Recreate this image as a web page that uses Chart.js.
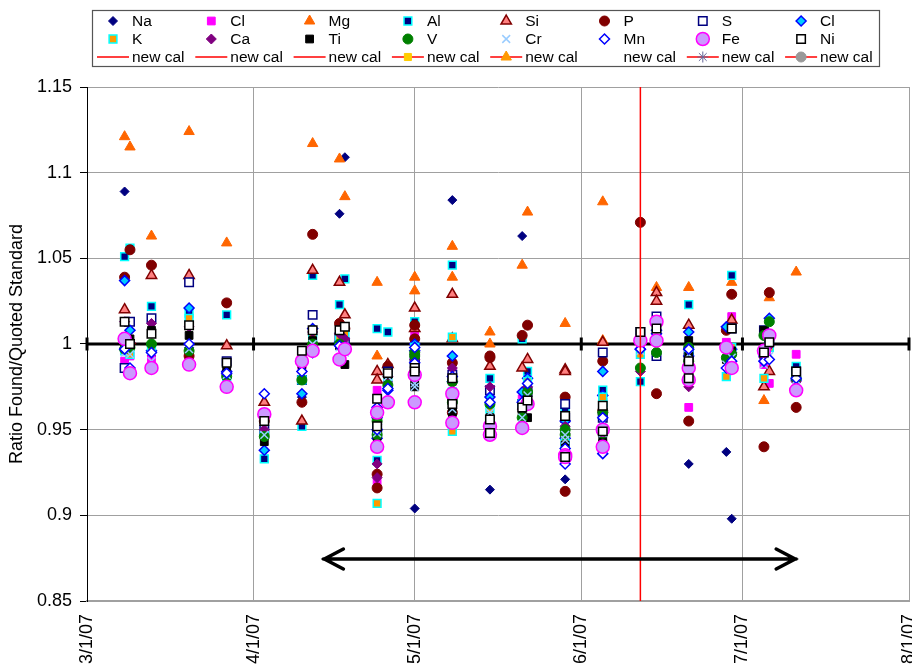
<!DOCTYPE html>
<html>
<head>
<meta charset="utf-8">
<script src="https://cdn.jsdelivr.net/npm/chart.js@4.4.0/dist/chart.umd.min.js"></script>
<style>
  html, body { margin: 0; padding: 0; background: #fff; }
  canvas { display: block; }
</style>
</head>
<body>
<canvas id="calChart" width="912" height="671"></canvas>
<script>
// sample run dates (some days have two runs)
const runDates = ['3/8/07','3/9/07','3/13/07','3/20/07','3/27/07','4/3/07','4/10/07','4/12/07','4/17/07','4/18/07',
  '4/24/07','4/24/07','4/26/07','5/1/07','5/1/07','5/8/07','5/8/07','5/15/07','5/15/07','5/21/07',
  '5/22/07','5/29/07','5/29/07','6/5/07','6/5/07','6/12/07','6/15/07','6/15/07','6/21/07','6/21/07',
  '6/28/07','6/29/07','7/5/07','7/6/07','7/11/07'];

// ratio found / quoted standard, one value per run
const na  = [1.089,0.999,0.993,0.998,0.983,0.950,0.969,null,1.076,1.109,0.953,0.948,0.978,0.997,0.904,1.084,0.965,0.915,null,1.063,null,0.921,null,0.958,null,null,null,null,0.930,null,0.937,0.898,null,null,null];
const cl  = [0.990,0.993,0.991,0.994,0.978,0.955,0.985,1.003,1.007,1.002,0.973,0.919,0.977,1.006,0.999,0.984,0.978,0.955,null,0.968,0.975,0.960,0.944,0.966,0.958,0.998,1.006,null,0.963,0.985,1.001,1.016,0.988,0.977,0.994];
const mg  = [1.121,1.115,1.063,1.124,1.059,0.966,null,1.117,1.108,1.086,1.036,0.993,null,1.039,1.031,1.057,1.039,1.007,1.000,1.046,1.077,1.012,0.984,1.083,1.002,null,1.033,null,1.033,null,null,1.036,0.967,1.027,1.042];
const al  = [1.051,1.056,1.022,1.018,1.017,0.933,0.952,1.040,1.023,1.038,1.009,0.932,1.007,1.013,0.998,1.046,0.972,0.980,null,1.003,0.984,0.962,0.950,0.973,0.966,0.978,1.010,null,1.023,0.996,null,1.040,null,1.000,0.987];
const si  = [1.020,1.002,1.040,1.040,0.999,0.966,0.955,1.043,1.036,1.017,0.984,0.979,0.988,1.021,1.009,1.029,1.003,0.987,null,0.986,0.991,0.985,0.984,1.001,null,1.004,1.030,1.025,1.011,null,null,1.014,0.975,0.984,null];
const p   = [1.039,1.055,1.046,0.993,1.024,0.955,0.966,1.064,1.012,1.009,0.924,0.916,0.987,1.011,1.003,0.989,0.960,0.993,0.992,1.005,1.011,0.969,0.914,0.990,0.961,1.071,0.971,null,0.955,null,1.008,1.029,0.940,1.030,0.963];
const s   = [0.986,1.013,1.015,1.036,0.990,0.950,0.979,1.017,1.004,1.001,0.951,0.948,0.984,0.989,0.992,0.982,0.968,0.973,null,0.965,0.972,0.965,0.957,0.995,0.957,1.007,1.016,0.993,0.995,0.992,null,1.009,1.008,1.003,0.984];
const cl2 = [1.037,1.008,0.996,1.021,0.984,0.938,0.971,1.009,1.001,0.999,0.957,0.945,0.973,1.000,0.996,0.993,0.978,0.969,null,0.972,0.980,0.955,0.945,0.984,0.970,0.997,1.008,null,1.007,0.993,1.010,0.997,0.993,1.015,0.979];
const k   = [0.996,0.994,0.998,1.015,0.981,0.948,0.979,1.004,1.003,1.006,0.952,0.907,0.981,0.998,0.996,1.004,0.949,0.962,null,0.965,0.978,0.942,0.940,0.969,0.964,0.994,1.005,null,0.996,0.988,0.981,0.998,0.980,0.998,0.982];
const ca  = [1.013,1.001,1.012,1.010,0.982,0.950,0.984,1.007,1.006,1.003,0.930,0.922,0.981,0.994,0.991,0.986,0.968,0.975,null,0.962,0.975,0.952,0.948,0.960,0.951,0.984,1.004,null,0.990,0.975,null,0.995,0.992,0.999,0.978];
const ti  = [0.998,1.003,1.008,1.005,0.986,0.943,0.988,1.002,0.999,0.988,0.949,0.946,0.982,0.977,0.975,0.964,0.960,0.957,null,0.958,0.957,0.958,0.941,0.945,0.942,1.004,1.007,null,1.002,0.993,0.991,0.996,1.008,1.002,0.983];
const v   = [0.997,0.998,1.000,0.996,0.981,0.946,0.979,1.000,1.000,0.997,0.955,0.947,0.976,0.995,0.993,0.978,0.966,0.965,null,0.957,0.972,0.947,0.950,0.960,0.948,0.986,0.995,null,0.998,0.990,0.992,0.994,1.005,1.013,0.980];
const cr  = [0.995,0.994,0.990,0.997,0.982,0.947,0.996,1.000,0.998,0.995,0.950,0.948,0.981,0.977,0.975,0.970,0.962,0.960,null,0.957,0.970,0.947,0.944,0.955,0.948,0.996,1.003,null,0.994,0.985,0.988,0.992,0.988,0.993,0.979];
const mn  = [0.997,0.986,0.995,1.000,0.983,0.971,0.984,0.995,0.999,0.998,0.963,0.950,0.974,0.998,0.989,0.981,0.970,0.966,null,0.966,0.977,0.939,0.930,0.957,0.936,0.997,1.006,null,0.997,0.988,0.986,0.990,0.990,0.991,0.980];
const fe  = [1.003,0.983,0.986,0.988,0.975,0.959,0.990,0.996,0.991,0.997,0.960,0.940,0.966,0.982,0.966,0.971,0.954,0.952,0.947,0.951,0.965,0.935,0.934,0.950,0.940,1.002,1.013,1.002,0.986,0.979,0.998,0.986,0.996,1.005,0.973];
const ni  = [1.013,1.000,1.006,1.011,0.989,0.955,0.996,1.008,1.008,1.010,0.968,0.952,0.983,0.986,0.984,0.980,0.965,0.956,0.948,0.963,0.967,0.958,0.934,0.964,0.949,1.007,1.009,null,0.990,0.980,null,1.009,0.995,1.001,0.984];

// axis ticks, calibration change, arrow annotation
const tickDates = ['3/1/07','4/1/07','5/1/07','6/1/07','7/1/07','8/1/07'];
const newCalDate = '6/12/07';
const arrowDates = ['4/14/07','7/11/07'];
const arrowLevel = 0.8745;
const newCalLabels = ['new cal','new cal','new cal','new cal','new cal','new cal','new cal','new cal'];

const FONT = '"Liberation Sans", Arial, sans-serif';

// days since 3/1/07
const dayOf = (str) => {
    const [m, d, y] = str.split('/').map(Number);
    return (Date.UTC(2000 + y, m - 1, d) - Date.UTC(2007, 2, 1)) / 864e5;
};
const axisMin = dayOf(tickDates[0]);
const axisMax = dayOf(tickDates[tickDates.length - 1]);

const seriesDefs = [
    { label: 'Na', values: na,  style: 'rectRot',  r: 4.5, fill: '#000080', stroke: '#000080', bw: 1 },
    { label: 'Cl', values: cl,  style: 'rect',     r: 5.5, fill: '#FF00FF', stroke: '#FF00FF', bw: 1 },
    { label: 'Mg', values: mg,  style: 'triangle', r: 6,   fill: '#FF6600', stroke: '#FF6600', bw: 1 },
    { label: 'Al', values: al,  style: 'rect',     r: 5.5, fill: '#000080', stroke: '#00FFFF', bw: 1.5 },
    { label: 'Si', values: si,  style: 'triangle', r: 6,   fill: '#FF8080', stroke: '#800000', bw: 1.5 },
    { label: 'P',  values: p,   style: 'circle',   r: 5,   fill: '#800000', stroke: '#800000', bw: 1 },
    { label: 'S',  values: s,   style: 'rect',     r: 6,   fill: '#FFFFFF', stroke: '#000080', bw: 1.5 },
    { label: 'Cl', values: cl2, style: 'rectRot',  r: 5,   fill: '#00CCFF', stroke: '#0000FF', bw: 1.5 },
    { label: 'K',  values: k,   style: 'rect',     r: 5.5, fill: '#FF9900', stroke: '#00FFFF', bw: 1.5 },
    { label: 'Ca', values: ca,  style: 'rectRot',  r: 5,   fill: '#800080', stroke: '#800080', bw: 1 },
    { label: 'Ti', values: ti,  style: 'rect',     r: 5.5, fill: '#000000', stroke: '#000000', bw: 1 },
    { label: 'V',  values: v,   style: 'circle',   r: 5,   fill: '#008000', stroke: '#008000', bw: 1 },
    { label: 'Cr', values: cr,  style: 'crossRot', r: 5.5, fill: '#99CCFF', stroke: '#99CCFF', bw: 1.5 },
    { label: 'Mn', values: mn,  style: 'rectRot',  r: 5,   fill: '#FFFFFF', stroke: '#0000FF', bw: 1.5 },
    { label: 'Fe', values: fe,  style: 'circle',   r: 6.5, fill: '#CC99FF', stroke: '#FF00FF', bw: 1.5 },
    { label: 'Ni', values: ni,  style: 'rect',     r: 6,   fill: '#FFFFFF', stroke: '#000000', bw: 1.5 }
];

// markers of the "new cal" legend row
const newCalKeys = [
    { line: true }, { line: true }, { line: true },
    { line: true, style: 'rect', r: 5, fill: '#FFCC00', stroke: '#FFCC00' },
    { line: true, style: 'triangle', r: 6, fill: '#FF9900', stroke: '#FF9900' },
    { line: false },
    { line: true, style: 'star', r: 5.5, fill: '#666699', stroke: '#666699' },
    { line: true, style: 'circle', r: 5, fill: '#999999', stroke: '#999999' }
];

const datasets = seriesDefs.map((sd, i) => ({
    label: sd.label,
    data: runDates.map((d, j) => ({ x: dayOf(d), y: sd.values[j] })).filter(pt => pt.y !== null),
    pointStyle: sd.style,
    pointRadius: sd.r,
    pointBackgroundColor: sd.fill,
    pointBorderColor: sd.stroke,
    pointBorderWidth: sd.bw,
    showLine: false,
    order: 50 - i
}));

// reference line at ratio 1 with month markers
datasets.push({
    label: 'ref',
    data: tickDates.map(d => ({ x: dayOf(d), y: 1 })),
    showLine: true,
    borderColor: '#000',
    borderWidth: 3,
    pointStyle: 'line',
    pointRotation: 90,
    pointRadius: 6.5,
    pointBorderWidth: 3,
    pointBorderColor: '#000',
    clip: false,
    order: 100
});

// new calibration marker
datasets.push({
    label: 'new cal',
    data: [{ x: dayOf(newCalDate), y: 0.85 }, { x: dayOf(newCalDate), y: 1.15 }],
    showLine: true,
    borderColor: '#FF0000',
    borderWidth: 1.5,
    pointRadius: 0,
    clip: { left: 0, top: 0, right: 0, bottom: 4 },
    order: 0
});

const arrowPlugin = {
    id: 'arrow',
    afterDatasetsDraw(chart) {
        const { ctx, scales: { x, y } } = chart;
        const x1 = x.getPixelForValue(dayOf(arrowDates[0]));
        const x2 = x.getPixelForValue(dayOf(arrowDates[1]));
        const yy = y.getPixelForValue(arrowLevel);
        ctx.save();
        ctx.strokeStyle = '#000';
        ctx.lineWidth = 3.5;
        ctx.lineCap = 'round';
        ctx.lineJoin = 'miter';
        ctx.beginPath();
        ctx.moveTo(x1, yy); ctx.lineTo(x2, yy);
        ctx.moveTo(x1 + 20, yy - 10); ctx.lineTo(x1 + 1, yy); ctx.lineTo(x1 + 20, yy + 10);
        ctx.moveTo(x2 - 20, yy - 10); ctx.lineTo(x2 - 1, yy); ctx.lineTo(x2 - 20, yy + 10);
        ctx.stroke();
        ctx.restore();
    }
};

const legendPlugin = {
    id: 'gridLegend',
    afterDraw(chart) {
        const ctx = chart.ctx;
        const box = { left: 92, top: 10, right: 879, bottom: 66 };
        const colX = (c) => 113 + c * 98.3;
        const rowY = [21, 39, 57];
        ctx.save();
        ctx.fillStyle = '#fff';
        ctx.fillRect(box.left, box.top, box.right - box.left, box.bottom - box.top);
        ctx.strokeStyle = '#555';
        ctx.lineWidth = 1.2;
        ctx.strokeRect(box.left + 0.5, box.top + 0.5, box.right - box.left, box.bottom - box.top);
        ctx.font = '15.5px ' + FONT;
        ctx.textBaseline = 'middle';
        ctx.textAlign = 'left';

        const marker = (def, cx, cy) => {
            ctx.fillStyle = def.fill;
            ctx.strokeStyle = def.stroke;
            ctx.lineWidth = def.bw || 1;
            Chart.helpers.drawPoint(ctx, { pointStyle: def.style, radius: def.r, rotation: 0, borderWidth: def.bw || 1 }, cx, cy);
        };

        seriesDefs.forEach((sd, i) => {
            const row = Math.floor(i / 8), col = i % 8;
            const cx = colX(col), cy = rowY[row];
            marker(sd, cx, cy);
            ctx.fillStyle = '#000';
            ctx.fillText(sd.label, cx + 19, cy + 1);
        });

        newCalKeys.forEach((nk, col) => {
            const cx = colX(col), cy = rowY[2];
            if (nk.line) {
                ctx.strokeStyle = '#FF0000';
                ctx.lineWidth = 1.5;
                ctx.beginPath();
                ctx.moveTo(cx - 16, cy); ctx.lineTo(cx + 16, cy);
                ctx.stroke();
            }
            if (nk.style) marker(nk, cx, cy);
            ctx.fillStyle = '#000';
            ctx.fillText(newCalLabels[col], cx + 19, cy + 1);
        });
        ctx.restore();
    }
};

const ctx = document.getElementById('calChart').getContext('2d');
const chart = new Chart(ctx, {
    type: 'scatter',
    data: { datasets },
    options: {
        responsive: false,
        animation: false,
        devicePixelRatio: 1,
        layout: { autoPadding: false, padding: { top: 87, right: 3, left: 0, bottom: 0 } },
        plugins: {
            legend: { display: false },
            tooltip: { enabled: false }
        },
        scales: {
            x: {
                type: 'linear',
                min: axisMin,
                max: axisMax,
                afterBuildTicks: (axis) => {
                    axis.ticks = tickDates.map(d => ({ value: dayOf(d) }));
                },
                afterFit: (scale) => {
                    scale.height = 70;
                    scale.paddingLeft = 0;
                    scale.paddingRight = 0;
                },
                ticks: {
                    autoSkip: false,
                    minRotation: 90,
                    maxRotation: 90,
                    padding: 13,
                    color: '#000',
                    font: { family: FONT, size: 18 },
                    callback: (value) => {
                        const idx = tickDates.findIndex(d => dayOf(d) === value);
                        return idx >= 0 ? tickDates[idx] : '';
                    }
                },
                grid: { color: '#a0a0a0', lineWidth: 1, drawTicks: false },
                border: { color: '#a0a0a0', width: 2 }
            },
            y: {
                min: 0.85,
                max: 1.15,
                afterFit: (scale) => { scale.width = 87; },
                ticks: {
                    stepSize: 0.05,
                    padding: 8,
                    color: '#000',
                    font: { family: FONT, size: 18 },
                    callback: (value) => String(Math.round(value * 100) / 100)
                },
                title: {
                    display: true,
                    text: 'Ratio Found/Quoted Standard',
                    color: '#000',
                    font: { family: FONT, size: 18 },
                    padding: { top: 6, bottom: 0 }
                },
                grid: { color: '#a0a0a0', lineWidth: 1, tickLength: 7, tickColor: '#000' },
                border: { color: '#000', width: 1 }
            }
        }
    },
    plugins: [arrowPlugin, legendPlugin]
});
</script>
</body>
</html>
